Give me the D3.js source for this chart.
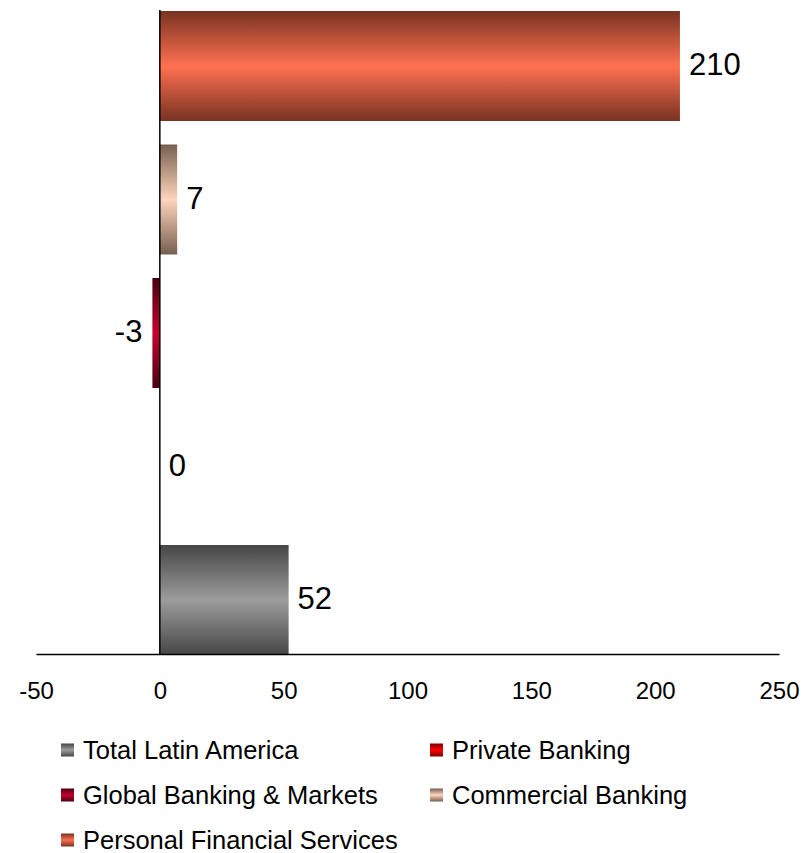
<!DOCTYPE html>
<html><head><meta charset="utf-8">
<script src="https://cdn.jsdelivr.net/npm/d3@7"></script>
<style>body{margin:0;background:#fff}text{font-family:Arial,"Liberation Sans",sans-serif;fill:#000}</style>
</head><body><svg id="c" width="805" height="853"></svg>
<script>
const series = ["Total Latin America","Private Banking","Global Banking & Markets","Commercial Banking","Personal Financial Services"];
const values = [52, 0, -3, 7, 210];
const edgeColors = ["#464646","#7a0000","#4a0010","#76604f","#783222"];
const midColors = ["#9c9c9c","#ff0000","#c8002e","#ffd4bd","#ff7150"];
const ticks = [-50, 0, 50, 100, 150, 200, 250];

const svg = d3.select("#c");
const x = d3.scaleLinear().domain([-50, 250]).range([36, 779]);
const y = d3.scaleBand().domain(series.slice().reverse()).range([11, 655]).paddingInner(0.176).paddingOuter(0);

const defs = svg.append("defs");
series.forEach((s, i) => {
  const g = defs.append("linearGradient").attr("id", "g" + i).attr("x1", 0).attr("x2", 0).attr("y1", 0).attr("y2", 1);
  g.append("stop").attr("offset", "0%").attr("stop-color", edgeColors[i]);
  g.append("stop").attr("offset", "50%").attr("stop-color", midColors[i]);
  g.append("stop").attr("offset", "100%").attr("stop-color", edgeColors[i]);
});

const data = series.map((s, i) => ({s, v: values[i], i}));

svg.append("g").selectAll("rect").data(data).join("rect")
  .attr("x", d => x(Math.min(0, d.v)))
  .attr("width", d => Math.abs(x(d.v) - x(0)))
  .attr("y", d => y(d.s))
  .attr("height", y.bandwidth())
  .attr("fill", d => `url(#g${d.i})`);

svg.append("g").selectAll("text").data(data).join("text")
  .attr("x", d => d.v < 0 ? x(d.v) - 10 : x(d.v) + 9)
  .attr("y", d => y(d.s) + y.bandwidth() / 2)
  .attr("dy", "0.3em")
  .attr("text-anchor", d => d.v < 0 ? "end" : "start")
  .style("font-size", "31px")
  .text(d => d.v);

// axes
const xAxis = svg.append("g").attr("transform", `translate(0,${y.range()[1] - 1})`)
  .call(d3.axisBottom(x).tickValues(ticks).tickSize(0).tickPadding(28).tickFormat(d => String(d)));
xAxis.select(".domain").attr("stroke", "#000").attr("stroke-width", 1.5);
xAxis.selectAll("text").style("font-size", "24px").attr("font-family", null);

svg.append("line").attr("x1", x(0)).attr("x2", x(0)).attr("y1", 10).attr("y2", y.range()[1] - 1)
  .attr("stroke", "#000").attr("stroke-width", 1.5);

// legend
const leg = svg.append("g");
const legPos = [[61, 750], [430, 750], [61, 795], [430, 795], [61, 840]];
data.forEach((d, k) => {
  const [lx, ly] = legPos[k];
  leg.append("rect").attr("x", lx).attr("y", ly - 6.5).attr("width", 13).attr("height", 13).attr("fill", `url(#g${d.i})`);
  leg.append("text").attr("x", lx + 22).attr("y", ly).attr("dy", "0.35em").style("font-size", "25.5px").text(d.s);
});
</script></body></html>
